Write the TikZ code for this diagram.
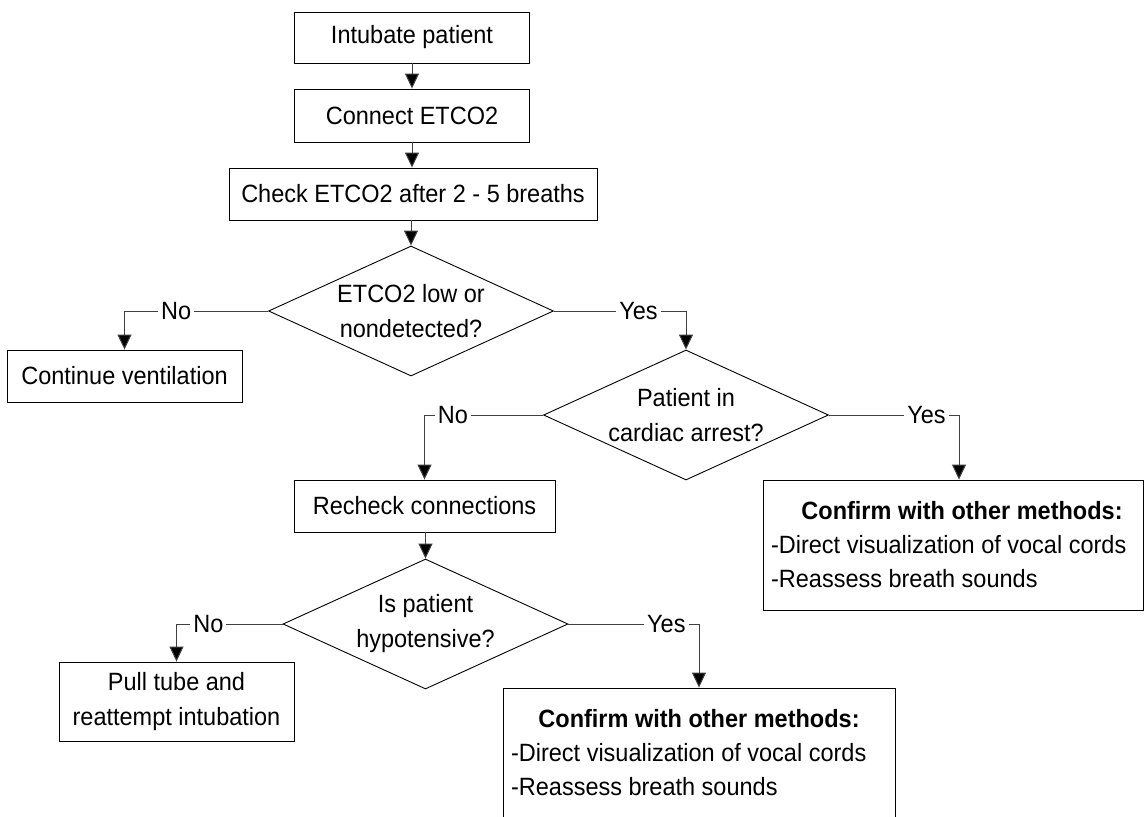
\documentclass[tikz,border=0pt]{standalone}
\usepackage{fontspec}
\setmainfont[FakeStretch=0.94]{Liberation Sans}
\usetikzlibrary{arrows.meta,shapes.geometric,calc}
\begin{document}
\begin{tikzpicture}[x=1pt,y=-1pt,
 txt/.style={font=\fontsize{25}{35}\selectfont, text=black},
 boldtxt/.style={font=\fontsize{25}{35}\selectfont\bfseries, text=black},
 box/.style={txt, draw=black, line width=0.9pt, rectangle, inner sep=0pt, align=center},
 dia/.style={draw=black, line width=0.9pt, diamond, inner sep=0pt, minimum width=285pt, minimum height=130pt},
 diatext/.style={txt, align=center, inner sep=0pt},
 conn/.style={draw=black!75, line width=1pt, -{Triangle[length=15pt,width=14pt,fill=black]}},
 lbl/.style={txt, fill=white, inner xsep=3pt, inner ysep=1pt},
]
\useasboundingbox (0,0) rectangle (1144,817);
\fill[white] (0,0) rectangle (1144,817);
\clip (0,0) rectangle (1144,817);

% nodes
\node[box, minimum width=235pt, minimum height=51pt] (b1) at (412,37.5) {Intubate patient};
\node[box, minimum width=235pt, minimum height=53pt] (b2) at (412,115.5) {Connect ETCO2};
\node[box, minimum width=368pt, minimum height=52pt] (b3) at (413,194) {Check ETCO2 after 2 - 5 breaths};
\node[dia, label={[diatext]center:ETCO2 low or\\nondetected?}] (d1) at (411,311) {};
\node[box, minimum width=235pt, minimum height=52pt] (cv) at (124.5,376) {Continue ventilation};
\node[dia, label={[diatext]center:Patient in\\cardiac arrest?}] (d2) at (686,415) {};
\node[box, minimum width=261pt, minimum height=52pt] (rc) at (424.5,506) {Recheck connections};
\node[dia, label={[diatext]center:Is patient\\hypotensive?}] (d3) at (425.5,624) {};
\node[box, minimum width=235pt, minimum height=79pt] (pt) at (176.5,701.5) {Pull tube and\\reattempt intubation};

\node[box, minimum width=380pt, minimum height=130pt] (cf1) at (953,545) {};
\node[boldtxt, anchor=base] (cf1t) at ($(cf1.north)+(9,40)$) {Confirm with other methods:};
\node[txt, anchor=base west] (cf1a) at ($(cf1.north west)+(5,74)$) {-Direct visualization of vocal cords};
\node[txt, anchor=base west] (cf1b) at ($(cf1.north west)+(5,108)$) {-Reassess breath sounds};
\coordinate (cf1in) at ($(cf1.north)+(6,0)$);

\node[box, minimum width=392pt, minimum height=152pt] (cf2) at (699,764) {};
\node[boldtxt, anchor=base] (cf2t) at ($(cf2.north)+(0,40)$) {Confirm with other methods:};
\node[txt, anchor=base west] (cf2a) at ($(cf2.north west)+(5,74)$) {-Direct visualization of vocal cords};
\node[txt, anchor=base west] (cf2b) at ($(cf2.north west)+(5,108)$) {-Reassess breath sounds};

% connectors
\draw[conn] (b1.south) -- (b1.south |- b2.north);
\draw[conn] (b2.south) -- (b2.south |- b3.north);
\draw[conn] (d1.north |- b3.south) -- (d1.north);
\draw[conn] (d1.west) -- node[lbl,pos=0.64] (l1) {No} (cv.north |- d1.west) -- (cv.north);
\draw[conn] (d1.east) -- node[lbl,pos=0.64] (l2) {Yes} (d2.north |- d1.east) -- (d2.north);
\draw[conn] (d2.west) -- node[lbl,pos=0.76] (l3) {No} (rc.north |- d2.west) -- (rc.north);
\draw[conn] (d2.east) -- node[lbl,pos=0.75] (l4) {Yes} (cf1in |- d2.east) -- (cf1in);
\draw[conn] (d3.north |- rc.south) -- (d3.north);
\draw[conn] (d3.west) -- node[lbl,pos=0.70] (l5) {No} (pt.north |- d3.west) -- (pt.north);
\draw[conn] (d3.east) -- node[lbl,pos=0.75] (l6) {Yes} (cf2.north |- d3.east) -- (cf2.north);
\end{tikzpicture}
\end{document}
